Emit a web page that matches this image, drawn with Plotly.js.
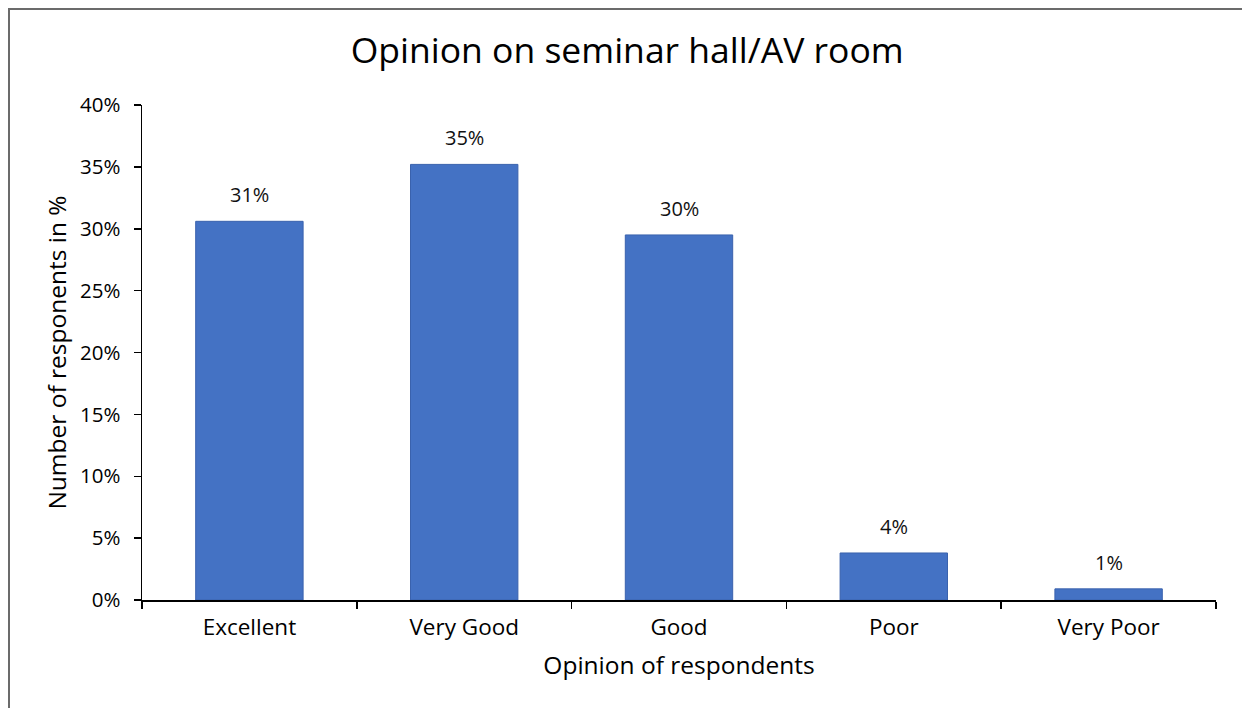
<!DOCTYPE html>
<html>
<head>
<meta charset="utf-8">
<script src="https://cdn.plot.ly/plotly-3.0.1.min.js"></script>
<style>
  html, body { margin: 0; padding: 0; background: #fff; }
  #wrap { position: relative; width: 1242px; height: 708px; overflow: hidden; }
  #frame { position: absolute; left: 8px; top: 8px; width: 1240px; height: 720px;
           border-top: 2px solid #6b6b6b; border-left: 2px solid #6b6b6b; box-sizing: border-box; }
  #chart { position: absolute; left: 0; top: 0; width: 1242px; height: 708px; }
</style>
</head>
<body>
<div id="wrap">
  <div id="frame"></div>
  <div id="chart"></div>
</div>
<script>
const categories = ["Excellent", "Very Good", "Good", "Poor", "Very Poor"];
const shares = [0.306, 0.352, 0.295, 0.038, 0.009];
const yTickVals = [0, 0.05, 0.10, 0.15, 0.20, 0.25, 0.30, 0.35, 0.40];
const yTickText = ["0%", "5%", "10%", "15%", "20%", "25%", "30%", "35%", "40%"];

const FONT = "Open Sans, DejaVu Sans, sans-serif";

const trace = {
  type: "bar",
  x: categories,
  y: shares,
  width: 0.5,
  marker: { color: "#4472C4", line: { color: "#3a62ad", width: 1 } },
  hoverinfo: "skip"
};

const annotations = categories.map((c, i) => ({
  x: c, y: shares[i], xref: "x", yref: "y",
  text: Math.round(shares[i] * 100) + "%",
  showarrow: false, yanchor: "bottom", yshift: 11,
  font: { family: FONT, size: 20, color: "#111" }
}));

const layout = {
  width: 1242, height: 708,
  paper_bgcolor: "rgba(0,0,0,0)",
  plot_bgcolor: "rgba(0,0,0,0)",
  margin: { l: 142, r: 26, t: 105, b: 108 },
  showlegend: false,
  title: { text: "Opinion on seminar hall/AV room", x: 0.505, xanchor: "center", y: 0.928, yanchor: "middle",
           font: { family: FONT, size: 35.5, color: "#000" } },
  xaxis: {
    type: "category",
    showline: true, linecolor: "#000", linewidth: 1.5,
    ticks: "outside", tickson: "boundaries", ticklen: 7, tickcolor: "#000", tickwidth: 1.5,
    ticklabelstandoff: 6,
    showgrid: false, zeroline: false,
    tickfont: { family: FONT, size: 22.5, color: "#000" },
    title: { text: "Opinion of respondents", standoff: 16, font: { family: FONT, size: 24.5, color: "#000" } }
  },
  yaxis: {
    range: [0, 0.40],
    tickvals: yTickVals, ticktext: yTickText,
    showline: true, linecolor: "#000", linewidth: 1.5,
    ticks: "outside", ticklen: 7, tickcolor: "#000", tickwidth: 1.5,
    ticklabelstandoff: 9,
    showgrid: false, zeroline: false,
    tickfont: { family: FONT, size: 20.5, color: "#000" },
    title: { text: "Number of responents in %", standoff: 6, font: { family: FONT, size: 24.5, color: "#000" } }
  },
  annotations: annotations
};

Plotly.newPlot("chart", [trace], layout, { displayModeBar: false, staticPlot: true });
</script>
</body>
</html>
